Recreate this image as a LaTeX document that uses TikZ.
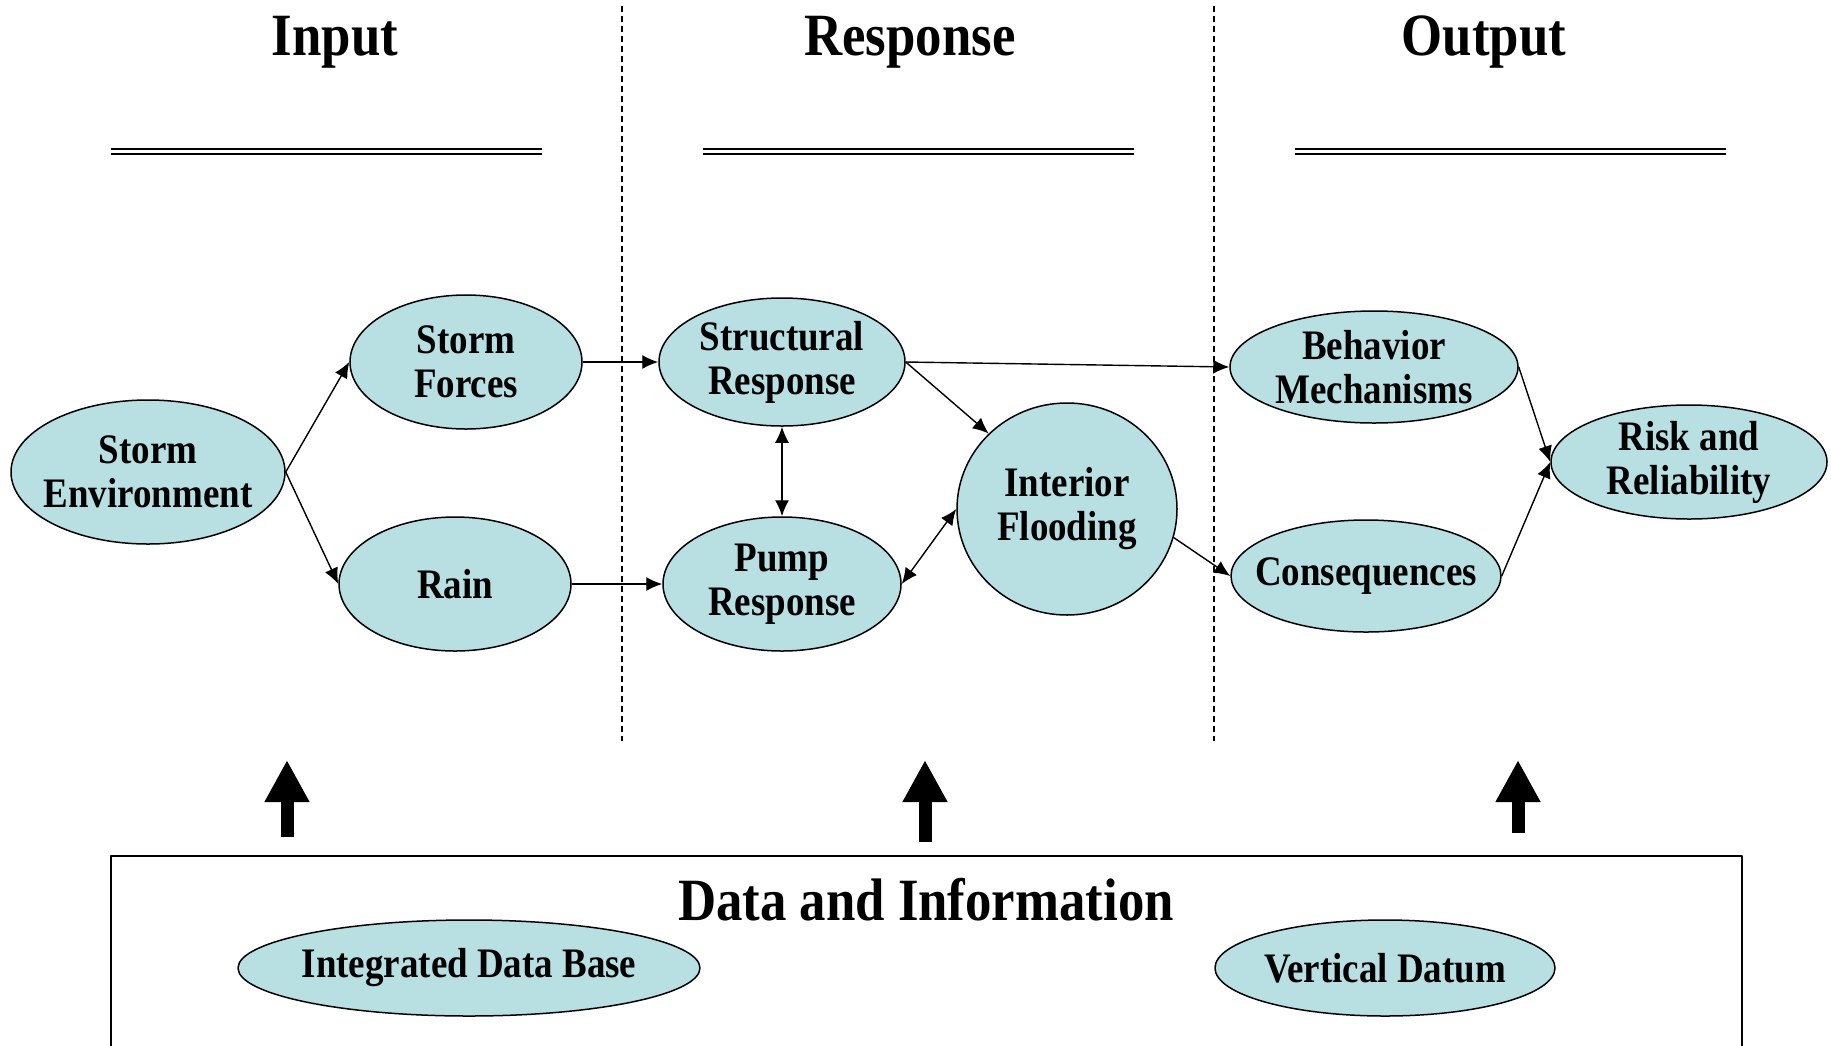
\documentclass[tikz,border=0pt]{standalone}
\usepackage{fontspec}
\setmainfont{Liberation Serif}[FakeStretch=0.88]
\usetikzlibrary{shapes.geometric,arrows.meta}
\definecolor{nodefill}{RGB}{184,223,226}
\tikzset{
  blob/.style 2 args={ellipse, draw, fill=nodefill, line width=0.75pt,
    minimum width=#1, minimum height=#2, inner xsep=-10pt, inner ysep=-6pt,
    align=center, font=\fontsize{21}{22}\selectfont\bfseries},
  heading/.style={anchor=base, font=\fontsize{30}{34}\selectfont\bfseries},
  link/.style={line width=0.7pt, -{Latex[length=8pt,width=7pt]}},
  twolink/.style={line width=0.7pt, {Latex[length=8pt,width=7pt]}-{Latex[length=8pt,width=7pt]}},
  bigarrow/.style={line width=6.5pt, -{Triangle[length=21pt,width=21pt]}},
  divider/.style={line width=0.7pt, dash pattern=on 3pt off 2pt},
  rule/.style={double, line width=1.1pt, double distance=1.3pt},
}
\begin{document}
\begin{tikzpicture}[x=0.5pt,y=-0.5pt,line join=bevel]
\useasboundingbox (0,0) rectangle (1831,1045);
%%
  % Headings
  \node[heading] (hin) at (335,55) {Input};
  \node[heading] (hresp) at (910,55) {Response};
  \node[heading] (hout) at (1484,55) {Output};
  \draw[rule] (111,151.5) -- (542,151.5);
  \draw[rule] (703,151.5) -- (1134,151.5);
  \draw[rule] (1295,151.5) -- (1726,151.5);
  % Dividers
  \draw[divider] (622,6) -- (622,741);
  \draw[divider] (1214,6) -- (1214,741);
  % Node: Storm Environment
  \node[blob={137pt}{72pt}] (env) at (148,472) {Storm\\Environment};
  % Node: Storm Forces
  \node[blob={116pt}{67pt}] (forces) at (466,362) {Storm\\Forces};
  % Node: Rain
  \node[blob={116pt}{67pt}] (rain) at (455,584) {Rain};
  % Node: Structural Response
  \node[blob={123pt}{64pt}] (struct) at (782,362) {Structural\\Response};
  % Node: Pump Response
  \node[blob={119pt}{67pt}] (pump) at (782,584) {Pump\\Response};
  % Node: Interior Flooding
  \node[blob={110pt}{106pt}] (flood) at (1067,509) {Interior\\Flooding};
  % Node: Behavior Mechanisms
  \node[blob={144pt}{56pt}] (behav) at (1374,367) {Behavior\\Mechanisms};
  % Node: Consequences
  \node[blob={135pt}{56pt}] (conseq) at (1366,576) {Consequences};
  % Node: Risk and Reliability
  \node[blob={138pt}{57pt}] (risk) at (1689,462) {Risk and\\Reliability};
  % Edge: Storm Environment -> Storm Forces
  \draw[link] (env.east) -- (forces.west);
  % Edge: Storm Environment -> Rain
  \draw[link] (env.east) -- (rain.west);
  % Edge: Storm Forces -> Structural Response
  \draw[link] (forces.east) -- (struct.west);
  % Edge: Rain -> Pump Response
  \draw[link] (rain.east) -- (pump.west);
  % Edge: Structural Response <-> Pump Response
  \draw[twolink] (struct.south) -- (pump.north);
  % Edge: Structural Response -> Behavior Mechanisms
  \draw[link] (struct.east) -- (behav.west);
  % Edge: Structural Response -> Interior Flooding
  \draw[link] (struct.east) -- (flood.north west);
  % Edge: Pump Response <-> Interior Flooding
  \draw[twolink] (pump.east) -- (flood.west);
  % Edge: Interior Flooding -> Consequences
  \draw[link] (flood.-15) -- (conseq.west);
  % Edge: Behavior Mechanisms -> Risk and Reliability
  \draw[link] (behav.east) -- (risk.west);
  % Edge: Consequences -> Risk and Reliability
  \draw[link] (conseq.east) -- (risk.west);
  % Feed arrows
  \coordinate (feedA) at (287,837);
  \coordinate (feedB) at (925,842);
  \coordinate (feedC) at (1518,833);
  \draw[bigarrow] (feedA) -- ++(0,-77);
  \draw[bigarrow] (feedB) -- ++(0,-82);
  \draw[bigarrow] (feedC) -- ++(0,-73);
  % Data and Information box
  \draw[line width=0.8pt] (111,856) rectangle (1742,1080);
  \node[heading] (hdata) at (926,920) {Data and Information};
  % Node: Integrated Data Base
  \node[blob={231pt}{48pt}] (idb) at (469,968) {Integrated Data Base};
  % Node: Vertical Datum
  \node[blob={170pt}{48pt}] (vdat) at (1385,968) {Vertical Datum};
%
\end{tikzpicture}
\end{document}
